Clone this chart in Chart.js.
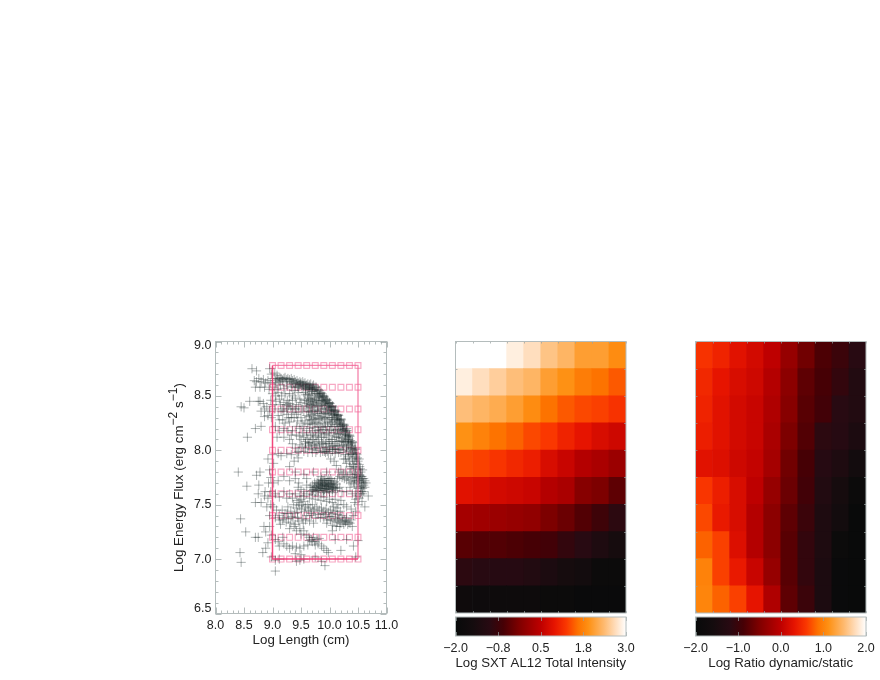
<!DOCTYPE html>
<html>
<head>
<meta charset="utf-8">
<title>Energy flux, intensity and ratio</title>
<script src="https://cdn.jsdelivr.net/npm/chart.js@4"></script>
<style>
  body { margin: 0; background: #fff; }
  canvas { position: absolute; filter: blur(0.4px); }
</style>
</head>
<body>
<canvas id="scatter" width="240" height="330" style="left:160px;top:330px"></canvas>
<canvas id="heatA" width="205" height="290" style="left:440px;top:330px"></canvas>
<canvas id="barA" width="205" height="65" style="left:440px;top:610px"></canvas>
<canvas id="heatB" width="205" height="290" style="left:680px;top:330px"></canvas>
<canvas id="barB" width="205" height="65" style="left:680px;top:610px"></canvas>
<script>
const gridLengths = [9.0, 9.15, 9.3, 9.45, 9.6, 9.75, 9.9, 10.05, 10.2, 10.35, 10.5];
const gridFluxes = [7.0, 7.2, 7.4, 7.6, 7.8, 8.0, 8.19, 8.38, 8.58, 8.78];
const boxLeftBottom = [[9, 8.78], [9, 7], [10.5, 7]];
const boxTopRight = [[9, 8.78], [10.5, 8.78], [10.5, 7]];

const ridgeOuter = [[9.05,8.64],[9.1,8.65],[9.15,8.66],[9.2,8.66],[9.25,8.65],[9.3,8.65],[9.35,8.64],[9.4,8.63],[9.45,8.62],[9.5,8.62],[9.55,8.61],[9.6,8.6],[9.65,8.6],[9.7,8.59],[9.75,8.58],[9.8,8.56],[9.85,8.53],[9.9,8.5],[9.95,8.47],[10,8.44],[10.05,8.41],[10.1,8.37],[10.15,8.33],[10.2,8.29],[10.25,8.24],[10.3,8.2],[10.35,8.14],[10.4,8.08],[10.45,8.02],[10.48,7.96],[10.5,7.9],[10.53,7.85],[10.55,7.8],[10.58,7.74],[10.6,7.68]];
const ridgeMiddle = [[9.06,8.62],[9.12,8.63],[9.18,8.64],[9.24,8.63],[9.31,8.63],[9.37,8.62],[9.42,8.61],[9.47,8.6],[9.52,8.6],[9.58,8.59],[9.63,8.58],[9.68,8.57],[9.73,8.56],[9.78,8.54],[9.83,8.51],[9.88,8.48],[9.93,8.45],[9.98,8.42],[10.03,8.39],[10.08,8.35],[10.13,8.31],[10.18,8.27],[10.23,8.22],[10.28,8.17],[10.33,8.12],[10.38,8.06],[10.42,8],[10.46,7.94],[10.48,7.88],[10.51,7.82],[10.53,7.77],[10.56,7.71],[10.58,7.65],[9.87,8.5],[9.92,8.47],[9.97,8.44],[10.02,8.4],[10.07,8.37],[10.12,8.33],[10.17,8.28],[10.22,8.24],[10.27,8.19],[10.32,8.14],[10.37,8.09]];
const ridgeInner = [[9.4,8.58],[9.46,8.58],[9.52,8.57],[9.58,8.56],[9.64,8.56],[9.7,8.54],[9.76,8.52],[9.81,8.49],[9.86,8.46],[9.91,8.43],[9.96,8.39],[10.01,8.36],[10.06,8.32],[10.11,8.28],[10.16,8.24],[10.21,8.19],[10.26,8.14],[10.31,8.08],[10.36,8.02],[10.41,7.96],[10.44,7.9],[10.46,7.84],[10.49,7.78],[10.51,7.72],[10.54,7.66],[10.56,7.62],[10.47,7.92],[10.43,7.98],[10.4,8.02],[10.34,8.08],[10.29,8.13],[10.24,8.18],[10.19,8.22],[10.14,8.26],[10.09,8.3],[10.04,8.34],[9.99,8.37],[9.94,8.41],[9.89,8.45]];
const ridgeExtra = [[9.08,8.66],[9.13,8.67],[9.17,8.65],[9.22,8.67],[9.27,8.66],[9.33,8.66],[9.38,8.65],[9.43,8.64],[9.48,8.63],[9.53,8.63],[9.57,8.62],[9.62,8.61],[9.67,8.61],[9.72,8.6],[9.77,8.58],[9.82,8.55],[9.84,8.52],[9.87,8.52],[9.89,8.49],[9.91,8.49],[9.94,8.46],[9.96,8.46],[9.99,8.43],[10.01,8.43],[10.04,8.4],[10.06,8.4],[10.09,8.36],[10.11,8.36],[10.14,8.32],[10.16,8.32],[10.19,8.28],[10.21,8.28],[10.24,8.23],[10.26,8.23],[10.29,8.18],[10.31,8.18],[10.34,8.13],[10.36,8.13],[10.39,8.07],[10.41,8.07],[10.44,8.01],[10.46,8.01],[10.47,7.97],[10.49,7.93],[10.52,7.87],[10.54,7.83],[10.57,7.76],[10.59,7.7],[9.34,8.61],[9.44,8.59],[9.49,8.61],[9.54,8.59],[9.59,8.58],[9.61,8.57],[9.66,8.58],[9.69,8.56],[9.71,8.57],[9.74,8.55],[9.79,8.52],[9.82,8.5],[10.03,8.37],[10.08,8.33],[10.13,8.29],[10.18,8.25],[10.23,8.2],[10.28,8.15],[10.33,8.1],[10.38,8.04]];
const upperBody = [[9.03,8.58],[9.08,8.56],[9.14,8.6],[9.2,8.57],[9.26,8.59],[9.33,8.58],[9.38,8.55],[9.45,8.53],[9.55,8.53],[9.62,8.51],[9.68,8.5],[9.74,8.48],[9.8,8.46],[9.85,8.42],[9.92,8.38],[9.98,8.34],[10.05,8.28],[10.12,8.22],[10.18,8.15],[10.25,8.08],[10.3,8.03],[10.36,7.96],[9.05,8.5],[9.12,8.47],[9.2,8.44],[9.24,8.42],[9.28,8.41],[9.32,8.4],[9.3,8.43],[9.26,8.38],[9.36,8.38],[9.42,8.42],[9.5,8.44],[9.56,8.46],[9.6,8.43],[9.64,8.45],[9.66,8.42],[9.7,8.44],[9.72,8.41],[9.76,8.43],[9.68,8.39],[9.74,8.37],[9.8,8.4],[9.82,8.36],[9.86,8.38],[9.9,8.34],[9.94,8.3],[10,8.28],[10.06,8.22],[10.1,8.18],[10.16,8.12],[10.22,8.04],[9.04,8.38],[9.1,8.32],[9.15,8.36],[9.18,8.28],[9.25,8.33],[9.3,8.26],[9.38,8.3],[9.45,8.35],[9.5,8.3],[9.55,8.36],[9.6,8.32],[9.63,8.36],[9.68,8.33],[9.72,8.3],[9.78,8.32],[9.83,8.28],[9.88,8.3],[9.92,8.25],[9.97,8.22],[10.02,8.24],[10.07,8.16],[10.12,8.12],[10.18,8.08],[10.24,8],[10.28,7.96],[9.65,8.28],[9.7,8.24],[9.75,8.26],[9.8,8.22],[9.85,8.24],[9.9,8.19],[9.95,8.16],[10,8.18],[10.05,8.1],[10.1,8.06],[10.15,8.04],[10.2,7.98],[9.55,8.22],[9.6,8.18],[9.65,8.2],[9.7,8.16],[9.75,8.18],[9.8,8.14],[9.85,8.16],[9.9,8.12],[9.95,8.08],[10,8.1],[10.05,8.04],[10.1,8.01],[10.16,7.98],[9.5,8.1],[9.55,8.12],[9.58,8.08],[9.62,8.1],[9.66,8.07],[9.7,8.1],[9.74,8.06],[9.78,8.08],[9.82,8.05],[9.86,8.07],[9.9,8.03],[9.95,8.01],[10,8.03],[10.05,7.99],[10.1,7.97],[9.48,8.05],[9.52,8.03],[9.58,8.02],[9.63,8.04],[9.68,8.01],[9.73,8.02],[9.78,8],[9.83,8.02],[9.88,7.99],[9.93,7.98],[9.98,7.97],[10.4,7.92],[10.35,7.9],[10.3,7.88],[10.25,7.92],[10.42,7.85],[10.38,7.83],[10.45,7.78],[10.4,7.75],[10.48,7.72],[10.44,7.69],[10.52,7.7],[10.5,7.65],[10.46,7.62],[10.54,7.6],[10.6,7.62],[10.62,7.72],[10.58,7.82],[10.52,7.92],[10.64,7.7],[10.68,7.58],[10.62,7.48],[10.48,7.58]];
const bodyFill = [[9.58,8.51],[9.63,8.48],[9.61,8.46],[9.67,8.47],[9.71,8.47],[9.65,8.52],[9.73,8.45],[9.77,8.46],[9.69,8.42],[9.59,8.41],[9.62,8.4],[9.78,8.41],[9.83,8.44],[9.88,8.41],[9.84,8.34],[9.79,8.36],[9.75,8.34],[9.7,8.36],[9.66,8.35],[9.93,8.35],[9.96,8.33],[10.03,8.3],[10.04,8.26],[10.09,8.24],[10.14,8.19],[10.19,8.17],[10.23,8.11],[10.27,8.07],[10.3,8.01],[10.33,7.99],[10.38,7.97],[10.15,8.15],[10.21,8.09],[10.13,8.08],[10.09,8.13],[10.03,8.19],[9.97,8.26],[9.91,8.29],[9.86,8.31],[9.81,8.29],[9.74,8.29],[9.69,8.28],[9.64,8.31],[9.57,8.27],[9.52,8.25],[9.62,8.24],[9.67,8.25],[9.73,8.21],[9.78,8.25],[9.83,8.19],[9.88,8.21],[9.93,8.22],[9.98,8.14],[9.92,8.15],[9.86,8.12],[9.81,8.18],[9.76,8.13],[9.72,8.12],[9.67,8.14],[9.6,8.14],[9.53,8.16],[9.47,8.13],[9.58,8.06],[9.64,8.07],[9.69,8.05],[9.76,8.04],[9.81,8.1],[9.88,8.06],[9.93,8.06],[9.98,8.06],[10.03,8.08],[10.08,8.04],[10.13,8.01],[10.18,8.01],[10.24,8.05],[10.28,8.1],[10.33,8.05],[10.06,8.01],[10.01,8.01],[9.96,7.99],[9.91,7.99],[9.84,7.98],[9.76,7.98],[9.7,7.98],[9.62,7.98],[9.55,7.99],[9.46,7.99],[9.4,8.02],[9.35,8.06],[9.33,8.14],[9.27,8.18],[9.2,8.12],[9.22,8.25],[9.28,8.3],[9.34,8.35],[9.4,8.38],[9.46,8.4],[9.52,8.38],[9.48,8.47],[9.4,8.48],[9.35,8.5],[9.3,8.52],[9.22,8.52],[9.16,8.5],[9.1,8.53],[9.06,8.45],[9.14,8.42],[9.18,8.38],[9.12,8.28],[9.35,8.46],[9.26,8.46],[9.2,8.36],[9.33,8.3],[9.42,8.33],[9.44,8.27],[9.42,8.14],[9.48,8.2],[10.41,7.87],[10.43,7.8],[10.36,7.85],[10.33,7.94],[10.28,7.92],[10.47,7.76],[10.44,7.74],[10.5,7.75],[10.53,7.73],[10.56,7.67],[10.48,7.67],[10.42,7.71],[10.38,7.7],[10.55,7.76],[10.6,7.74],[10.62,7.66],[10.58,7.6],[10.52,7.56],[10.57,7.53],[10.46,7.55]];
const upperLeft = [[8.64,8.75],[8.72,8.73],[8.95,8.75],[8.68,8.64],[8.72,8.63],[8.76,8.66],[8.8,8.63],[8.84,8.65],[8.88,8.62],[8.92,8.64],[8.96,8.62],[9,8.66],[8.98,8.7],[9.04,8.71],[9.08,8.69],[8.7,8.58],[8.78,8.58],[8.86,8.58],[8.94,8.56],[9,8.52],[8.78,8.45],[8.84,8.43],[8.86,8.38],[8.9,8.4],[8.95,8.36],[8.97,8.46],[9,8.42],[8.92,8.32],[8.98,8.3],[8.8,8.36],[8.86,8.31],[8.75,8.45],[8.6,8.45],[8.45,8.4],[8.5,8.39],[8.56,8.12],[8.7,8.2],[8.8,8.22],[9.05,8.22],[9.12,8.18],[9.08,8.12],[9.2,8.2],[9.35,8.18],[9.42,8.22],[9.3,8.1]];
const middleGap = [[8.92,7.92],[8.95,7.82],[9,7.96],[8.97,7.75],[9.02,7.88],[9.1,7.97],[9.15,7.95],[9.25,7.97],[9.33,7.96],[9.38,7.9],[9.43,7.98],[9.45,7.93],[9.3,7.85],[9.4,7.8],[9.1,7.72],[9.2,7.76],[9.3,7.72],[9.4,7.74],[9.46,7.7],[9.55,7.78],[9.6,7.74],[9.72,7.8],[9.85,7.76],[9.95,7.8],[10.02,7.92],[10.08,7.9],[10.12,7.86],[10.16,7.8],[10.2,7.82],[10.24,7.78],[10.28,7.8],[10.32,7.76],[10.36,7.78],[10.18,7.76],[10.22,7.75],[10.26,7.74],[10.3,7.73],[10.14,7.74],[10.34,7.72]];
const darkBlob = [[9.66,7.66],[9.7,7.68],[9.72,7.64],[9.75,7.67],[9.78,7.7],[9.8,7.65],[9.82,7.68],[9.84,7.71],[9.86,7.66],[9.88,7.69],[9.9,7.72],[9.91,7.64],[9.93,7.67],[9.95,7.7],[9.97,7.65],[9.98,7.69],[10,7.72],[10.02,7.66],[10.03,7.69],[10.05,7.64],[10.07,7.68],[10.09,7.71],[10.1,7.66],[10.12,7.69],[9.7,7.63],[9.75,7.62],[9.8,7.63],[9.85,7.63],[9.9,7.61],[9.95,7.62],[10,7.62],[10.05,7.61],[9.74,7.7],[9.8,7.72],[9.86,7.73],[9.92,7.74],[9.98,7.74],[10.04,7.72],[9.68,7.62],[9.78,7.66],[9.88,7.65],[9.98,7.67],[10.06,7.66],[9.94,7.68],[9.84,7.67],[10.14,7.65],[10.18,7.66],[10.22,7.62],[10.3,7.62],[10.36,7.66],[10.4,7.6],[9.73,7.66],[9.77,7.64],[9.83,7.65],[9.87,7.68],[9.89,7.63],[9.92,7.7],[9.96,7.67],[9.99,7.64],[10.01,7.69],[10.04,7.67],[10.08,7.65],[10.11,7.63],[9.81,7.69],[9.85,7.7],[9.94,7.65],[9.91,7.68],[10.06,7.7],[9.96,7.72],[10.02,7.74],[9.88,7.72]];
const lowerBand = [[9.0,7.58],[9.05,7.6],[9.12,7.57],[9.2,7.62],[9.25,7.56],[9.3,7.6],[9.35,7.56],[9.4,7.6],[9.43,7.54],[9.46,7.52],[9.5,7.55],[9.52,7.5],[9.55,7.53],[9.58,7.48],[9.62,7.5],[9.66,7.47],[9.7,7.5],[9.74,7.46],[9.78,7.48],[9.82,7.45],[9.86,7.47],[9.9,7.44],[9.94,7.46],[9.98,7.43],[10.02,7.45],[10.06,7.42],[10.1,7.44],[10.14,7.41],[10.18,7.38],[10.22,7.4],[10.26,7.36],[10.3,7.38],[10.34,7.34],[10.38,7.36],[10.42,7.4],[10.46,7.44],[10.5,7.5],[10.44,7.52],[10.38,7.46],[10.3,7.48],[10.25,7.5],[10.2,7.54],[10.15,7.5],[10.1,7.55],[10.05,7.52],[10,7.55],[9.95,7.53],[9.9,7.57],[9.85,7.54],[9.8,7.58],[9.75,7.55],[9.7,7.59],[9.65,7.56],[9.6,7.6],[9.55,7.62],[9.5,7.64],[9.45,7.66],[9.6,7.68],[9.55,7.58],[9.48,7.58],[9.42,7.47],[9.37,7.5],[9.32,7.44],[9.27,7.48],[9.22,7.42],[9.17,7.45],[9.12,7.4],[9.07,7.45],[9.02,7.48],[9.05,7.38],[9.12,7.36],[9.2,7.38],[9.28,7.37],[9.36,7.38],[9.44,7.38],[9.52,7.37],[9.6,7.4],[9.68,7.4],[9.76,7.38],[9.84,7.38],[9.9,7.38],[9.96,7.36],[10.02,7.36],[10.08,7.35],[10.14,7.34],[10.2,7.33],[10.25,7.32],[10.32,7.32],[10.4,7.3],[9.95,7.33],[10.05,7.31],[10.12,7.3],[10.18,7.3],[10.28,7.34],[9.14,7.32],[9.24,7.34],[9.32,7.33],[9.4,7.32],[9.47,7.49],[9.51,7.46],[9.56,7.44],[9.63,7.45],[9.68,7.42],[9.72,7.44],[9.8,7.41],[9.87,7.42],[9.93,7.41],[9.99,7.39],[10.04,7.39],[10.11,7.37],[10.16,7.36],[10.23,7.35],[10.29,7.35],[10.36,7.33],[10.13,7.47],[10.07,7.48],[10.19,7.44],[9.44,7.43],[9.39,7.42],[9.34,7.39],[9.26,7.42],[9.18,7.36],[9.58,7.36],[9.65,7.35],[9.72,7.33],[9.46,7.35],[9.54,7.33]];
const lowerArc = [[9.3,7.28],[9.38,7.3],[9.42,7.26],[9.48,7.28],[9.5,7.23],[9.55,7.26],[9.6,7.22],[9.64,7.2],[9.68,7.18],[9.72,7.2],[9.74,7.16],[9.78,7.18],[9.8,7.14],[9.82,7.19],[9.86,7.12],[9.9,7.1],[9.95,7.08],[9.98,7.06],[9.7,7.16],[9.75,7.13],[9.65,7.17],[9.05,7.18],[9.1,7.16],[9.18,7.2],[9.12,7.12],[9.2,7.14],[9.25,7.12],[9.3,7.1],[9.35,7.12],[9.42,7.11],[9.48,7.1],[9.55,7.12],[9.62,7.13],[9.4,7.05],[9.5,7.04],[9.55,7],[9.48,6.99],[9.42,6.98],[9.92,6.94],[9.86,6.98],[9.12,7],[9.05,6.99],[10.05,7.26],[10.1,7.18],[10.2,7.08],[10.42,7.12],[10.5,7.17],[10.46,7.02],[10.3,7.18],[9.75,7.02],[9.05,6.89],[8.98,7.02]];
const farLeft = [[8.4,7.8],[8.43,7.06],[8.45,6.97],[8.44,7.37],[8.53,7.25],[8.55,7.67],[8.72,7.77],[8.76,7.68],[8.78,7.8],[8.75,7.6],[8.7,7.52],[8.8,7.52],[8.75,7.2],[8.7,7.2],[8.85,7.3],[8.88,7.25],[8.83,7.06],[8.88,7.1],[8.92,7.15],[8.86,7.58],[8.92,7.56],[8.97,7.5],[8.9,7.48],[8.95,7.4],[8.93,7.7],[8.87,7.62],[8.97,7.62],[9.02,7.7],[8.95,7.3],[8.98,7.22]];

const intensityRows = [
  [3.00, 3.00, 3.00, 2.85, 2.70, 2.45, 2.30, 2.05, 2.05, 1.85],
  [2.85, 2.70, 2.55, 2.40, 2.30, 2.05, 1.90, 1.70, 1.60, 1.45],
  [2.40, 2.30, 2.20, 2.05, 1.85, 1.60, 1.45, 1.35, 1.30, 1.20],
  [1.90, 1.75, 1.60, 1.50, 1.35, 1.25, 1.05, 0.90, 0.75, 0.65],
  [1.35, 1.30, 1.22, 1.10, 1.00, 0.75, 0.60, 0.40, 0.30, 0.15],
  [0.85, 0.80, 0.70, 0.65, 0.60, 0.40, 0.30, -0.05, -0.15, -0.40],
  [0.25, 0.20, 0.15, 0.10, 0.05, -0.15, -0.30, -0.50, -0.70, -0.95],
  [-0.45, -0.50, -0.50, -0.55, -0.60, -0.65, -0.85, -1.00, -1.25, -1.45],
  [-0.95, -1.00, -1.05, -1.05, -1.15, -1.30, -1.45, -1.55, -1.85, -1.85],
  [-1.70, -1.75, -1.75, -1.75, -1.75, -1.85, -1.85, -1.90, -1.90, -1.90]
];
const ratioRows = [
  [0.56, 0.44, 0.28, 0.16, 0.00, -0.32, -0.60, -0.84, -1.00, -1.20],
  [0.48, 0.32, 0.20, 0.12, -0.08, -0.40, -0.72, -0.88, -1.08, -1.32],
  [0.44, 0.28, 0.16, 0.08, -0.12, -0.44, -0.76, -0.92, -1.20, -1.32],
  [0.40, 0.28, 0.16, 0.08, -0.16, -0.52, -0.80, -1.16, -1.24, -1.44],
  [0.28, 0.24, 0.12, 0.04, -0.20, -0.60, -0.88, -1.24, -1.40, -1.64],
  [0.58, 0.40, 0.20, 0.00, -0.32, -0.64, -0.92, -1.32, -1.56, -1.88],
  [0.68, 0.36, 0.20, -0.08, -0.40, -0.72, -1.00, -1.40, -1.64, -1.96],
  [0.80, 0.64, 0.24, -0.08, -0.40, -0.76, -1.08, -1.40, -1.88, -1.96],
  [1.00, 0.64, 0.36, 0.08, -0.32, -0.76, -1.08, -1.44, -1.92, -1.96],
  [1.02, 0.80, 0.64, 0.32, -0.12, -0.72, -1.00, -1.44, -1.92, -1.96]
];

const cellColumns = ["1", "2", "3", "4", "5", "6", "7", "8", "9", "10"];
const paletteStops = [0, 0.1, 0.2, 0.28, 0.37, 0.5, 0.58, 0.65, 0.72, 0.78, 0.87, 0.94, 1];
const paletteColors = [[8,10,10],[20,12,14],[40,10,18],[70,0,5],[125,0,0],[190,0,0],[230,20,0],[250,55,0],[253,115,0],[254,145,20],[254,185,110],[255,222,190],[255,255,255]];

const lengthTicks = [8, 8.5, 9, 9.5, 10, 10.5, 11];
const lengthMinor = [8.1,8.2,8.3,8.4,8.6,8.7,8.8,8.9,9.1,9.2,9.3,9.4,9.6,9.7,9.8,9.9,10.1,10.2,10.3,10.4,10.6,10.7,10.8,10.9];
const fluxTicks = [6.5, 7, 7.5, 8, 8.5, 9];
const fluxMinor = [6.6,6.7,6.8,6.9,7.1,7.2,7.3,7.4,7.6,7.7,7.8,7.9,8.1,8.2,8.3,8.4,8.6,8.7,8.8,8.9];
const intensityBarTicks = [-2, -0.75, 0.5, 1.75, 3];
const intensityBarLabels = ["\u22122.0", "\u22120.8", "0.5", "1.8", "3.0"];
const ratioBarTicks = [-2, -1, 0, 1, 2];
const ratioBarLabels = ["\u22122.0", "\u22121.0", "0.0", "1.0", "2.0"];

const FONT = "'Liberation Sans', Arial, sans-serif";
const FRAME = "#b4bcbc";
const INK = "#222";

function paletteColor(t) {
  t = Math.min(1, Math.max(0, t));
  let i = 0;
  while (i < paletteStops.length - 2 && t > paletteStops[i + 1]) i++;
  const f = (t - paletteStops[i]) / (paletteStops[i + 1] - paletteStops[i]);
  const c = paletteColors[i].map((v, k) => Math.round(v + (paletteColors[i + 1][k] - v) * f));
  return `rgb(${c[0]},${c[1]},${c[2]})`;
}

// frame and inward ticks on all four sides, the way IDL draws them
const frameTicks = {
  id: "frameTicks",
  afterDatasetsDraw(chart, args, opts) {
    const { ctx, chartArea: a, scales } = chart;
    ctx.save();
    ctx.lineWidth = 1;
    const mark = (list, len) => {
      ctx.beginPath();
      list.forEach((v) => {
        if (v[0] === "x") {
          const px = Math.round(scales.x.getPixelForValue(v[1])) + 0.5;
          ctx.moveTo(px, a.top); ctx.lineTo(px, a.top + len);
          ctx.moveTo(px, a.bottom); ctx.lineTo(px, a.bottom - len);
        } else {
          const py = Math.round(scales.y.getPixelForValue(v[1])) + 0.5;
          ctx.moveTo(a.left, py); ctx.lineTo(a.left + len, py);
          ctx.moveTo(a.right, py); ctx.lineTo(a.right - len, py);
        }
      });
      ctx.stroke();
    };
    ctx.strokeStyle = "rgba(150,160,160,0.7)";
    mark(opts.major.x.map((v) => ["x", v]).concat(opts.major.y.map((v) => ["y", v])), opts.majorLen);
    mark(opts.minor.x.map((v) => ["x", v]).concat(opts.minor.y.map((v) => ["y", v])), opts.minorLen);
    ctx.strokeStyle = FRAME;
    ctx.strokeRect(a.left, a.top, a.right - a.left, a.bottom - a.top);
    ctx.restore();
  }
};

// y title with full size superscripts, Chart.js titles are one plain string
const fluxTitleParts = [["Log Energy Flux (erg cm", 0], ["\u22122", 1], [" s", 0], ["\u22121", 1], [")", 0]];
const fluxTitle = {
  id: "fluxTitle",
  afterDraw(chart) {
    const { ctx } = chart;
    ctx.save();
    ctx.translate(23, 242);
    ctx.rotate(-Math.PI / 2);
    ctx.fillStyle = INK;
    ctx.textBaseline = "alphabetic";
    let x = 0;
    fluxTitleParts.forEach(([text, up]) => {
      ctx.font = `${up ? 12 : 13.4}px ${FONT}`;
      ctx.fillText(text, x, up ? -6 : 0);
      x += ctx.measureText(text).width;
    });
    ctx.restore();
  }
};

// tick labels may stick out past the frame, keep the plot area where it was asked to be
const noEdgePadding = (s) => {
  s.paddingLeft = s.paddingRight = s.paddingTop = s.paddingBottom = 0;
};

const squarePoints = [];
gridFluxes.forEach((y) => gridLengths.forEach((x) => squarePoints.push({ x, y })));
const toPoint = (p) => ({ x: p[0], y: p[1] });
const crossPoints = [].concat(farLeft, upperLeft, upperBody, bodyFill, ridgeInner, ridgeMiddle, ridgeOuter, ridgeExtra, middleGap, darkBlob, lowerBand, lowerArc).map(toPoint);

new Chart(document.getElementById("scatter"), {
  type: "scatter",
  data: {
    datasets: [
      { label: "box left", type: "line", data: boxLeftBottom.map(toPoint), borderColor: "rgba(240,50,110,0.9)", borderWidth: 1.5, pointRadius: 0, fill: false, order: 1 },
      { label: "box right", type: "line", data: boxTopRight.map(toPoint), borderColor: "rgba(242,100,150,0.8)", borderWidth: 1.3, pointRadius: 0, fill: false, order: 1 },
      { label: "runs", data: crossPoints, pointStyle: "cross", pointRadius: 4.6, borderColor: "rgba(25,40,40,0.4)", borderWidth: 0.9, backgroundColor: "transparent", order: 2 },
      { label: "grid", data: squarePoints, pointStyle: "rect", pointRadius: 4.1, borderColor: "#f7a8c4", borderWidth: 1.2, backgroundColor: "transparent", order: 3 }
    ]
  },
  options: {
    responsive: false,
    animation: false,
    layout: { autoPadding: false, padding: { top: 11.5, right: 13.5 } },
    plugins: {
      legend: { display: false },
      tooltip: { enabled: false },
      frameTicks: { major: { x: lengthTicks, y: fluxTicks }, minor: { x: lengthMinor, y: fluxMinor }, majorLen: 6, minorLen: 3 }
    },
    scales: {
      x: {
        type: "linear", min: 8, max: 11,
        grid: { display: false, drawTicks: false }, border: { display: false },
        afterBuildTicks: (s) => { s.ticks = lengthTicks.map((value) => ({ value })); },
        afterFit: (s) => { s.height = 46.5; noEdgePadding(s); },
        ticks: { padding: 5, maxRotation: 0, autoSkip: false, color: INK, font: { family: FONT, size: 12.5 }, callback: (v) => v.toFixed(1) },
        title: { display: true, text: "Log Length (cm)", color: INK, font: { family: FONT, size: 13.3 }, padding: { top: 0, bottom: 12 } }
      },
      y: {
        type: "linear", min: 6.5, max: 9,
        grid: { display: false, drawTicks: false }, border: { display: false },
        afterBuildTicks: (s) => { s.ticks = fluxTicks.map((value) => ({ value })); },
        afterFit: (s) => {
          s.width = 55.5;
          noEdgePadding(s);
          // end labels sit just inside the frame
          const base = s.getPixelForTick.bind(s);
          s.getPixelForTick = (i) => Math.max(s.top + 4, Math.min(s.bottom - 5, base(i)));
        },
        ticks: { padding: 4, autoSkip: false, color: INK, font: { family: FONT, size: 12.5 }, callback: (v) => v.toFixed(1) }
      }
    }
  },
  plugins: [frameTicks, fluxTitle]
});

function heatChart(id, rows, low, high) {
  const datasets = rows.slice().reverse().map((row, i) => ({
    label: "row " + (i + 1),
    data: row.map(() => 1),
    backgroundColor: row.map((v) => paletteColor((v - low) / (high - low))),
    borderWidth: 0,
    barPercentage: 1,
    categoryPercentage: 1
  }));
  return new Chart(document.getElementById(id), {
    type: "bar",
    data: { labels: cellColumns, datasets },
    options: {
      responsive: false,
      animation: false,
      layout: { padding: { top: 11.5, bottom: 7, left: 15.5, right: 19 } },
      plugins: {
        legend: { display: false },
        tooltip: { enabled: false },
        frameTicks: {
          major: { x: [-0.5, 0.5, 1.5, 2.5, 3.5, 4.5, 5.5, 6.5, 7.5, 8.5, 9.5], y: [1, 2, 3, 4, 5, 6, 7, 8, 9] },
          minor: { x: [], y: [] }, majorLen: 2, minorLen: 0
        }
      },
      scales: {
        x: { stacked: true, display: false },
        y: { stacked: true, display: false, min: 0, max: 10 }
      }
    },
    plugins: [frameTicks]
  });
}

function colorBar(id, low, high, tickValues, tickLabels, titleText) {
  return new Chart(document.getElementById(id), {
    type: "bar",
    data: {
      labels: ["scale"],
      datasets: [{
        label: titleText,
        data: [[low, high]],
        borderWidth: 0,
        barPercentage: 1,
        categoryPercentage: 1,
        backgroundColor: (c) => {
          const a = c.chart.chartArea;
          if (!a) return "#000";
          const g = c.chart.ctx.createLinearGradient(a.left, 0, a.right, 0);
          paletteStops.forEach((s) => g.addColorStop(s, paletteColor(s)));
          return g;
        }
      }]
    },
    options: {
      indexAxis: "y",
      responsive: false,
      animation: false,
      layout: { autoPadding: false, padding: { top: 7, left: 15.5, right: 19 } },
      plugins: {
        legend: { display: false },
        tooltip: { enabled: false },
        frameTicks: { major: { x: tickValues, y: [] }, minor: { x: [], y: [] }, majorLen: 4, minorLen: 0 }
      },
      scales: {
        y: { display: false },
        x: {
          type: "linear", min: low, max: high,
          grid: { display: false, drawTicks: false }, border: { display: false },
          afterBuildTicks: (s) => { s.ticks = tickValues.map((value) => ({ value })); },
          afterFit: (s) => { s.height = 39; noEdgePadding(s); },
          ticks: { padding: 5, maxRotation: 0, autoSkip: false, color: INK, font: { family: FONT, size: 12.5 }, callback: (v, i) => tickLabels[i] },
          title: { display: true, text: titleText, color: INK, font: { family: FONT, size: 13.3 }, padding: { top: 0, bottom: 4 } }
        }
      }
    },
    plugins: [frameTicks]
  });
}

heatChart("heatA", intensityRows, -2, 3);
colorBar("barA", -2, 3, intensityBarTicks, intensityBarLabels, "Log SXT AL12 Total Intensity");
heatChart("heatB", ratioRows, -2, 2);
colorBar("barB", -2, 2, ratioBarTicks, ratioBarLabels, "Log Ratio dynamic/static");
</script>
</body>
</html>
